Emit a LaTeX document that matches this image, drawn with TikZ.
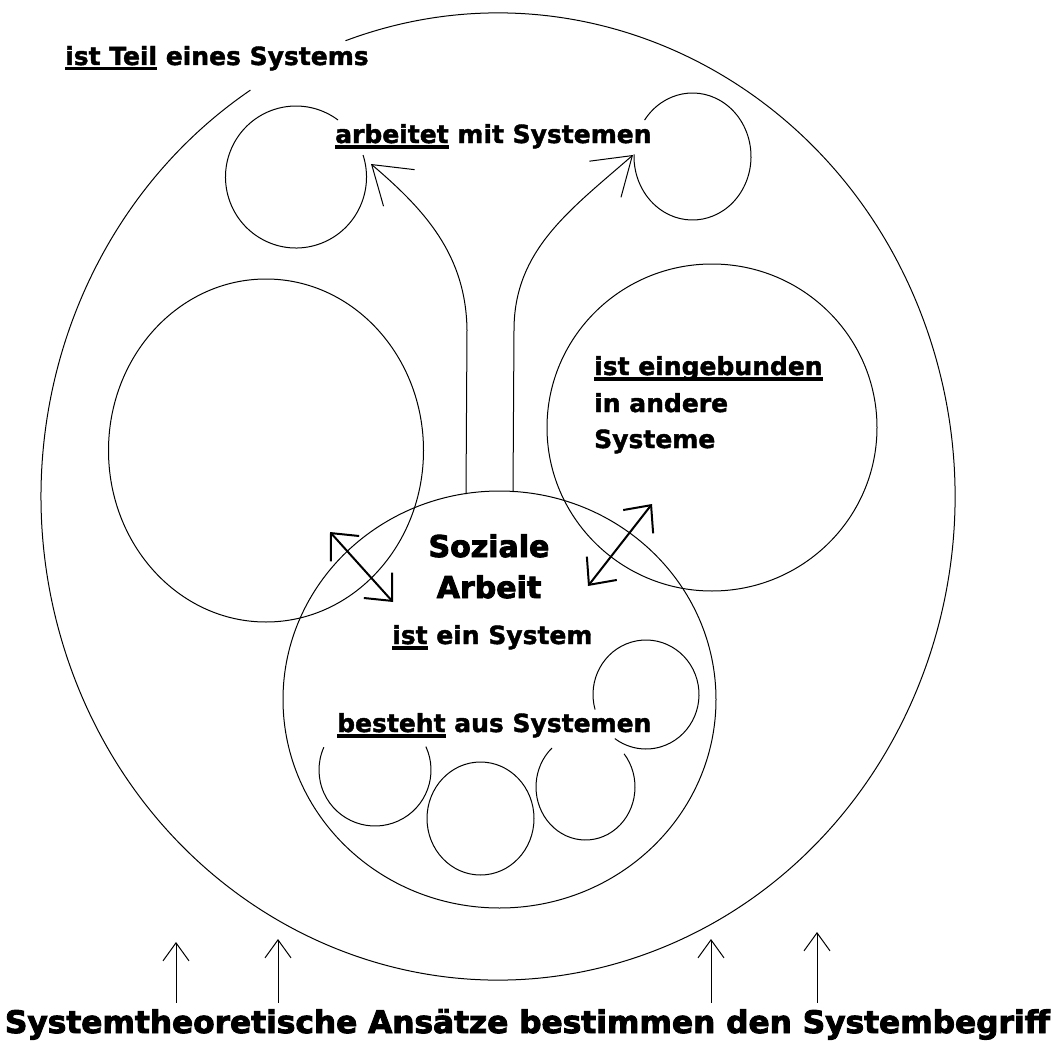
\documentclass[tikz,border=0pt]{standalone}
\usepackage{graphicx}
\usepackage{fontspec}
\setmainfont{DejaVu Sans}[BoldFeatures={FakeBold=1.6}]
\newfontfamily\heavyfont{DejaVu Sans Bold}[FakeBold=3]
\usetikzlibrary{arrows.meta, positioning}

% word with a heavy bar under it
\newcommand{\uword}[1]{\setbox0=\hbox{#1}\rlap{\rule[-5.5pt]{\wd0}{3.5pt}}\box0\relax}

\begin{document}
\begin{tikzpicture}[
    x=1pt, y=-1pt,
    pen/.style={line width=1pt},
    lbl/.style={inner sep=0pt, anchor=base west, font=\fontsize{25}{30}\selectfont\bfseries},
    head/.style={inner sep=0pt, anchor=base, font=\fontsize{30}{36}\heavyfont},
    link/.style={line width=1pt, -{Straight Barb[length=36pt, width=48pt]}},
    mutual/.style={line width=2pt, {Straight Barb[length=21pt, width=38pt]}-{Straight Barb[length=21pt, width=38pt]}},
    rise/.style={line width=1pt, -{Straight Barb[length=18pt, width=26pt]}}
]
\fill[white] (0,0) rectangle (1058,1041);
\useasboundingbox (0,0) rectangle (1058,1041);

% outer system, open where its label sits
\draw[pen] (498,496.5) ++(250.5:457 and 483.5) arc[start angle=250.5, end angle=597.2, x radius=457, y radius=483.5];

% systems worked with
\draw[pen] (296,177) ++(-18:70.5 and 71) arc[start angle=-18, end angle=306.6, x radius=70.5, y radius=71];
\draw[pen] (692.5,156.5) ++(215:58.5 and 63.5) arc[start angle=215, end angle=542, x radius=58.5, y radius=63.5];

% neighbour systems
\draw[pen] (266,450.5) ellipse[x radius=157.5, y radius=171.5];
\draw[pen] (712,427.5) ellipse[x radius=165, y radius=163.5];

% Soziale Arbeit
\draw[pen] (499.5,699.5) ellipse[x radius=216.5, y radius=208.5];

% its subsystems
\draw[pen] (646,694.5) ++(164:53 and 54.5) arc[start angle=164, end angle=486, x radius=53, y radius=54.5];
\draw[pen] (375,770) ++(-24.7:56 and 56) arc[start angle=-24.7, end angle=204, x radius=56, y radius=56];
\draw[pen] (480.5,818.5) ellipse[x radius=53.5, y radius=56.5];
\draw[pen] (585.5,787) ++(-38.8:49.5 and 53) arc[start angle=-38.8, end angle=227.4, x radius=49.5, y radius=53];

% labels
\node[lbl] (teil) at (65,65) {\uword{ist Teil} eines Systems};
\node[lbl] (arbeitet) at (335,143) {\uword{arbeitet} mit Systemen};
\node[lbl] (emb1) at (594,375) {\uword{ist eingebunden}};
\node[lbl] (emb2) at ([yshift=-37pt]emb1.base west) {in andere};
\node[lbl] (emb3) at ([yshift=-36pt]emb2.base west) {Systeme};
\node[head] (soziale) at (489,557) {Soziale};
\node[head] (arbeit) at ([yshift=-41pt]soziale.base) {Arbeit};
\node[lbl] (system) at (392,644) {\uword{ist} ein System};
\node[lbl] (besteht) at (337,732) {\uword{besteht} aus Systemen};
\node[head, font=\fontsize{31}{36}\heavyfont] (theory) at (527.5,1033) {\resizebox{1045pt}{\height}{Systemtheoretische Ansätze bestimmen den Systembegriff}};

% arrows
\coordinate (leftfoot) at (466,494);
\coordinate (rightfoot) at (513,492);
\coordinate (lefttip) at (371,164);
\coordinate (righttip) at (633,155);
\draw[link] (leftfoot) -- (467,330) .. controls (466,255) and (425,210) .. (lefttip);
\draw[link] (rightfoot) -- (514,330) .. controls (514,250) and (570,210) .. (righttip);

\coordinate (a1) at (330,532);
\coordinate (a2) at (393,602);
\coordinate (b1) at (652,504);
\coordinate (b2) at (588,586);
\draw[mutual] (a1) -- (a2);
\draw[mutual] (b2) -- (b1);

\foreach \x/\y [count=\i] in {176/942, 278/939, 711/939, 817/932} {
  \coordinate (tip\i) at (\x,\y);
  \draw[rise, shorten <=6pt] (tip\i |- theory.north) -- (tip\i);
}
\end{tikzpicture}
\end{document}
